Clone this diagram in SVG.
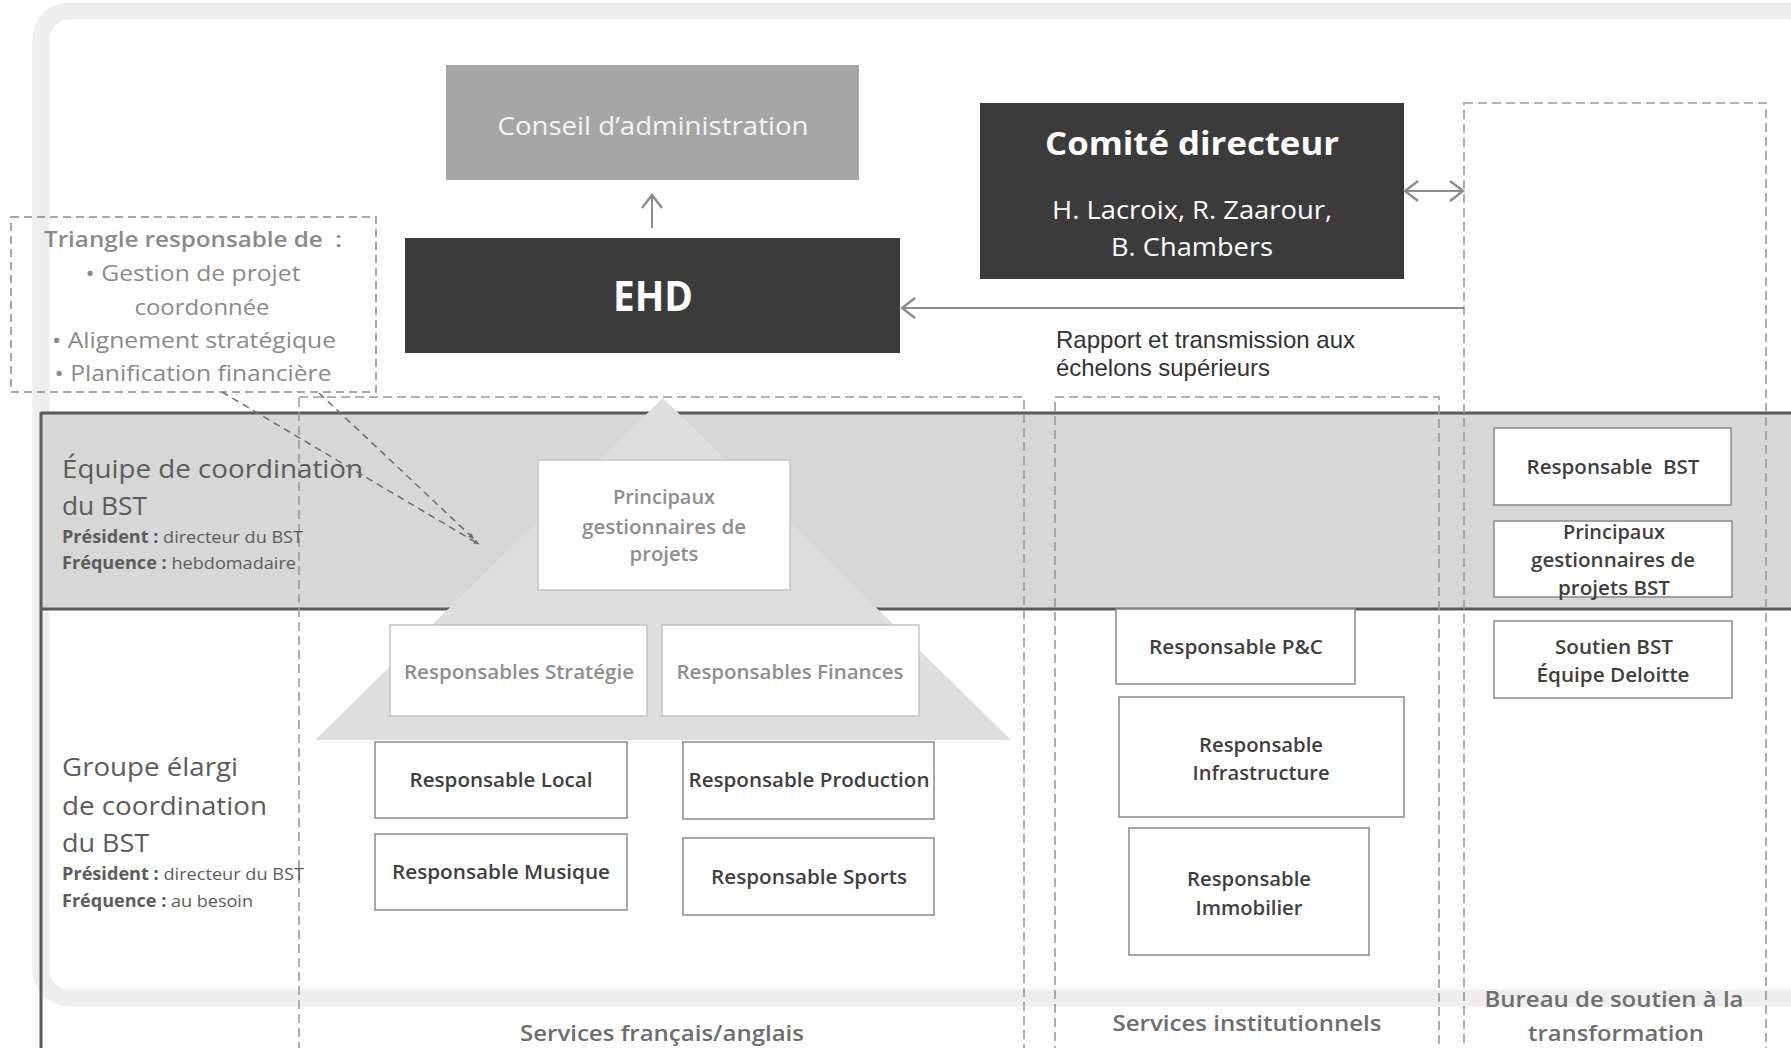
<svg xmlns="http://www.w3.org/2000/svg" width="1791" height="1048" viewBox="0 0 1791 1048">
<style>
text{font-family:"Open Sans","Liberation Sans",sans-serif}
text.arial{font-family:"Liberation Sans",Arial,sans-serif;font-size:24px;fill:#333333}
.node{fill:#ffffff;stroke:#8a8a8a;stroke-width:1.5}
.lnode{fill:#ffffff;stroke:#c4c4c4;stroke-width:1.5}
.nt{font-size:20px;font-weight:600;fill:#3f3f3f;text-anchor:middle}
.lt{font-size:20px;font-weight:600;fill:#8e8e8e;text-anchor:middle}
.col{fill:none;stroke:#9a9a9a;stroke-width:1.6;stroke-dasharray:9 5}
.lane{fill:#5c5c5c}
.big{font-size:26px}
.small{font-size:17px}
.tri{font-size:22px;fill:#8a8a8a;text-anchor:middle}
.bot{font-size:22px;font-weight:600;fill:#6e6e6e;text-anchor:middle}
.conn{fill:none;stroke:#8c8c8c;stroke-width:2}
.lead{fill:none;stroke:#6e6e6e;stroke-width:1.5;stroke-dasharray:7 5}
</style>
<defs>
<marker id="arr" viewBox="0 0 24 24" refX="21" refY="12" markerWidth="24" markerHeight="24" markerUnits="userSpaceOnUse" orient="auto-start-reverse">
<path d="M8,2 L21,12 L8,22" fill="none" stroke="#8c8c8c" stroke-width="2.4"/>
</marker>
<marker id="dot" viewBox="0 0 10 10" refX="5" refY="5" markerWidth="6" markerHeight="6" markerUnits="userSpaceOnUse" orient="auto">
<path d="M0,1 L10,5 L0,9 Z" fill="#6e6e6e"/>
</marker>
</defs>
<rect width="1791" height="1048" fill="#ffffff"/>
<!-- outer shadow frame -->
<rect x="41" y="11" width="1800" height="987" rx="28" fill="none" stroke="#eeeeee" stroke-width="17"/>
<!-- swimlane band -->
<rect x="41" y="413" width="1760" height="196" fill="#d7d7d7"/>
<line x1="41" y1="413" x2="1791" y2="413" stroke="#5a5a5a" stroke-width="3"/>
<line x1="41" y1="609" x2="1791" y2="609" stroke="#5a5a5a" stroke-width="3"/>
<line x1="41" y1="412" x2="41" y2="1048" stroke="#5a5a5a" stroke-width="3"/>
<!-- triangle -->
<polygon points="663,398 1011,740 315,740" fill="#dedede"/>
<!-- dashed columns -->
<rect class="col" x="299" y="397" width="725" height="680"/>
<rect class="col" x="1055" y="397" width="384" height="680"/>
<rect class="col" x="1464" y="103" width="302" height="980"/>
<!-- lane labels -->
<g id="lane-equipe">
<text class="lane big" x="62" y="478" textLength="301" lengthAdjust="spacingAndGlyphs">Équipe de coordination</text>
<text class="lane big" x="62" y="515" textLength="85" lengthAdjust="spacingAndGlyphs">du BST</text>
<text class="lane small" x="62" y="543" textLength="241" lengthAdjust="spacingAndGlyphs"><tspan font-weight="700">Président :</tspan> directeur du BST</text>
<text class="lane small" x="62" y="569" textLength="234" lengthAdjust="spacingAndGlyphs"><tspan font-weight="700">Fréquence :</tspan> hebdomadaire</text>
</g>
<g id="lane-groupe">
<text class="lane big" x="62" y="776" textLength="176" lengthAdjust="spacingAndGlyphs">Groupe élargi</text>
<text class="lane big" x="62" y="815" textLength="205" lengthAdjust="spacingAndGlyphs">de coordination</text>
<text class="lane big" x="62" y="852" textLength="87" lengthAdjust="spacingAndGlyphs">du BST</text>
<text class="lane small" x="62" y="880" textLength="242" lengthAdjust="spacingAndGlyphs"><tspan font-weight="700">Président :</tspan> directeur du BST</text>
<text class="lane small" x="62" y="907" textLength="191" lengthAdjust="spacingAndGlyphs"><tspan font-weight="700">Fréquence :</tspan> au besoin</text>
</g>
<!-- top nodes -->
<g id="conseil">
<rect x="446" y="65" width="413" height="115" fill="#a6a6a6"/>
<text x="653" y="135" font-size="25" fill="#f4f4f4" text-anchor="middle" textLength="311" lengthAdjust="spacingAndGlyphs">Conseil d’administration</text>
</g>
<g id="ehd">
<rect x="405" y="238" width="495" height="115" fill="#3b3b3b"/>
<text x="653" y="311" font-size="42" font-weight="700" fill="#ffffff" text-anchor="middle" textLength="80" lengthAdjust="spacingAndGlyphs">EHD</text>
</g>
<g id="comite">
<rect x="980" y="103" width="424" height="176" fill="#3b3b3b"/>
<text x="1192" y="155" font-size="33" font-weight="700" fill="#ffffff" text-anchor="middle" textLength="294" lengthAdjust="spacingAndGlyphs">Comité directeur</text>
<text x="1192" y="219" font-size="26" fill="#ffffff" text-anchor="middle" textLength="280" lengthAdjust="spacingAndGlyphs">H. Lacroix, R. Zaarour,</text>
<text x="1192" y="256" font-size="26" fill="#ffffff" text-anchor="middle" textLength="162" lengthAdjust="spacingAndGlyphs">B. Chambers</text>
</g>
<g id="triangle-note">
<rect x="11" y="217" width="365" height="175" fill="none" stroke="#8a8a8a" stroke-width="1.5" stroke-dasharray="8 5"/>
<text class="tri" x="193" y="247" font-weight="600" textLength="298" lengthAdjust="spacingAndGlyphs">Triangle responsable de&#160; :</text>
<text class="tri" x="193" y="281" textLength="215" lengthAdjust="spacingAndGlyphs">• Gestion de projet</text>
<text class="tri" x="202" y="315" textLength="135" lengthAdjust="spacingAndGlyphs">coordonnée</text>
<text class="tri" x="194" y="348" textLength="284" lengthAdjust="spacingAndGlyphs">• Alignement stratégique</text>
<text class="tri" x="193" y="381" textLength="277" lengthAdjust="spacingAndGlyphs">• Planification financière</text>
</g>
<!-- connectors -->
<g id="connectors">
<line class="conn" x1="652" y1="228" x2="652" y2="195" marker-end="url(#arr)"/>
<line class="conn" x1="1405" y1="191" x2="1463" y2="191" marker-start="url(#arr)" marker-end="url(#arr)"/>
<line class="conn" x1="1464" y1="308" x2="902" y2="308" marker-end="url(#arr)"/>
<line class="lead" x1="222" y1="392" x2="477" y2="543" marker-end="url(#dot)"/>
<line class="lead" x1="319" y1="393" x2="472" y2="537" marker-end="url(#dot)"/>
<text class="arial" x="1056" y="348" textLength="299" lengthAdjust="spacingAndGlyphs">Rapport et transmission aux</text>
<text class="arial" x="1056" y="376" textLength="214" lengthAdjust="spacingAndGlyphs">échelons supérieurs</text>
</g>
<!-- triangle nodes -->
<g id="principaux">
<rect class="lnode" x="538" y="460" width="252" height="130"/>
<text class="lt" x="664" y="504" textLength="102" lengthAdjust="spacingAndGlyphs">Principaux</text>
<text class="lt" x="664" y="534" textLength="164" lengthAdjust="spacingAndGlyphs">gestionnaires de</text>
<text class="lt" x="664" y="561" textLength="69" lengthAdjust="spacingAndGlyphs">projets</text>
</g>
<g id="strategie">
<rect class="lnode" x="390" y="625" width="257" height="91"/>
<text class="lt" x="519" y="679" textLength="230" lengthAdjust="spacingAndGlyphs">Responsables Stratégie</text>
</g>
<g id="finances">
<rect class="lnode" x="662" y="625" width="257" height="91"/>
<text class="lt" x="790" y="679" textLength="227" lengthAdjust="spacingAndGlyphs">Responsables Finances</text>
</g>
<!-- services francais/anglais nodes -->
<g id="local">
<rect class="node" x="375" y="742" width="252" height="76"/>
<text class="nt" x="501" y="787" textLength="183" lengthAdjust="spacingAndGlyphs">Responsable Local</text>
</g>
<g id="production">
<rect class="node" x="683" y="742" width="251" height="77"/>
<text class="nt" x="809" y="787" textLength="241" lengthAdjust="spacingAndGlyphs">Responsable Production</text>
</g>
<g id="musique">
<rect class="node" x="375" y="834" width="252" height="76"/>
<text class="nt" x="501" y="879" textLength="218" lengthAdjust="spacingAndGlyphs">Responsable Musique</text>
</g>
<g id="sports">
<rect class="node" x="683" y="838" width="251" height="77"/>
<text class="nt" x="809" y="884" textLength="196" lengthAdjust="spacingAndGlyphs">Responsable Sports</text>
</g>
<!-- services institutionnels -->
<g id="pc">
<rect class="node" x="1116" y="609" width="239" height="75"/>
<text class="nt" x="1236" y="654" textLength="174" lengthAdjust="spacingAndGlyphs">Responsable P&amp;C</text>
</g>
<g id="infrastructure">
<rect class="node" x="1119" y="697" width="285" height="120"/>
<text class="nt" x="1261" y="752" textLength="124" lengthAdjust="spacingAndGlyphs">Responsable</text>
<text class="nt" x="1261" y="780" textLength="137" lengthAdjust="spacingAndGlyphs">Infrastructure</text>
</g>
<g id="immobilier">
<rect class="node" x="1129" y="828" width="240" height="127"/>
<text class="nt" x="1249" y="886" textLength="124" lengthAdjust="spacingAndGlyphs">Responsable</text>
<text class="nt" x="1249" y="915" textLength="107" lengthAdjust="spacingAndGlyphs">Immobilier</text>
</g>
<!-- bureau de soutien -->
<g id="resp-bst">
<rect class="node" x="1494" y="428" width="237" height="77"/>
<text class="nt" x="1613" y="474" textLength="173" lengthAdjust="spacingAndGlyphs">Responsable&#160; BST</text>
</g>
<g id="principaux-bst">
<rect class="node" x="1494" y="521" width="238" height="76"/>
<text class="nt" x="1614" y="539" textLength="102" lengthAdjust="spacingAndGlyphs">Principaux</text>
<text class="nt" x="1613" y="567" textLength="164" lengthAdjust="spacingAndGlyphs">gestionnaires de</text>
<text class="nt" x="1614" y="595" textLength="112" lengthAdjust="spacingAndGlyphs">projets BST</text>
</g>
<g id="soutien-bst">
<rect class="node" x="1494" y="621" width="238" height="77"/>
<text class="nt" x="1614" y="654" textLength="118" lengthAdjust="spacingAndGlyphs">Soutien BST</text>
<text class="nt" x="1613" y="682" textLength="153" lengthAdjust="spacingAndGlyphs">Équipe Deloitte</text>
</g>
<!-- column labels -->
<g id="col-labels">
<text class="bot" x="662" y="1041" textLength="284" lengthAdjust="spacingAndGlyphs">Services français/anglais</text>
<text class="bot" x="1247" y="1031" textLength="269" lengthAdjust="spacingAndGlyphs">Services institutionnels</text>
<text class="bot" x="1614" y="1007" textLength="259" lengthAdjust="spacingAndGlyphs">Bureau de soutien à la</text>
<text class="bot" x="1616" y="1041" textLength="176" lengthAdjust="spacingAndGlyphs">transformation</text>
</g>
</svg>
